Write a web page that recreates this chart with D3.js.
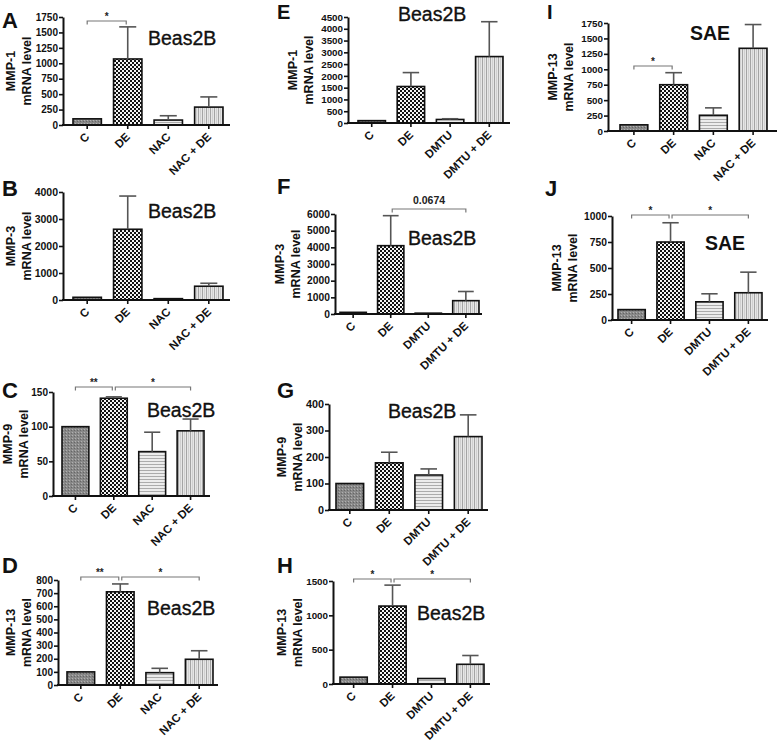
<!DOCTYPE html>
<html><head><meta charset="utf-8">
<script src="https://cdn.jsdelivr.net/npm/d3@7"></script>
<style>
body{margin:0;background:#fff}
svg{display:block}
text{font-family:"Liberation Sans",Arial,Helvetica,sans-serif}
</style>
</head><body>
<svg id="chart" width="778" height="741"></svg>
<script>
// ---------------- DATA ----------------
const catsNAC  = ["C", "DE", "NAC", "NAC + DE"];
const catsDMTU = ["C", "DE", "DMTU", "DMTU + DE"];

const meanA = [100, 1070, 80, 290],   semA = [0, 520, 70, 165];
const meanB = [100, 2620, 50, 510],   semB = [0, 1230, 0, 110];
const meanC = [100, 141, 64, 94],     semC = [0, 2, 28, 17];
const meanD = [100, 710, 94, 196],    semD = [0, 60, 33, 65];
const meanE = [100, 1550, 150, 2820], semE = [0, 590, 30, 1480];
const meanF = [100, 4100, 50, 800],   semF = [0, 1800, 0, 550];
const meanG = [100, 178, 132, 277],   semG = [0, 40, 23, 82];
const meanH = [100, 1135, 80, 287],   semH = [0, 305, 0, 128];
const meanI = [100, 750, 255, 1340],  semI = [0, 195, 120, 385];
const meanJ = [100, 750, 175, 262],   semJ = [0, 185, 77, 198];

const ticksA = [0, 250, 500, 750, 1000, 1250, 1500, 1750];
const ticksB = [0, 1000, 2000, 3000, 4000];
const ticksC = [0, 50, 100, 150];
const ticksD = [0, 100, 200, 300, 400, 500, 600, 700, 800];
const ticksE = [0, 500, 1000, 1500, 2000, 2500, 3000, 3500, 4000, 4500];
const ticksF = [0, 1000, 2000, 3000, 4000, 5000, 6000];
const ticksG = [0, 100, 200, 300, 400];
const ticksH = [0, 500, 1000, 1500];
const ticksI = [0, 250, 500, 750, 1000, 1250, 1500, 1750];
const ticksJ = [0, 250, 500, 750, 1000];

const genes  = ["MMP-1", "MMP-3", "MMP-9", "MMP-13", "MMP-1", "MMP-3", "MMP-9", "MMP-13", "MMP-13", "MMP-13"];
const cells  = ["Beas2B", "Beas2B", "Beas2B", "Beas2B", "Beas2B", "Beas2B", "Beas2B", "Beas2B", "SAE", "SAE"];
const letters = ["A", "B", "C", "D", "E", "F", "G", "H", "I", "J"];
const yLabel2 = "mRNA level";

// significance brackets: [fromIndex, toIndex, label]
const sigA = [[0, 1, "*"]];
const sigC = [[0, 1, "**"], [1, 3, "*"]];
const sigD = [[0, 1, "**"], [1, 3, "*"]];
const sigF = [[1, 3, "0.0674"]];
const sigH = [[0, 1, "*"], [1, 3, "*"]];
const sigI = [[0, 1, "*"]];
const sigJ = [[0, 1, "*"], [1, 3, "*"]];

// ---------------- LAYOUT ----------------
const layout = [
  {ax:63,  axEnd:230, yTop:17,  yBot:125, b0:73,  b1:223, lx:2,   ly:28,  lf:22, tx:148, ty:45,  labX:31,  tf:10,   bY:21,  tb:false},
  {ax:63,  axEnd:230, yTop:192, yBot:300, b0:73,  b1:223, lx:2,   ly:196, lf:22, tx:148, ty:218, labX:31,  tf:10.5, bY:0,   tb:false},
  {ax:53,  axEnd:210, yTop:392, yBot:496, b0:62,  b1:204, lx:2,   ly:398, lf:22, tx:147, ty:417, labX:28,  tf:10,   bY:387, tb:false},
  {ax:58,  axEnd:218, yTop:580, yBot:685, b0:67,  b1:213, lx:2,   ly:573, lf:22, tx:147, ty:615, labX:31,  tf:10,   bY:577, tb:false},
  {ax:348, axEnd:510, yTop:17,  yBot:123, b0:358, b1:503, lx:277, ly:19,  lf:20, tx:398, ty:21,  labX:313, tf:9.8,  bY:0,   tb:false},
  {ax:335, axEnd:482, yTop:214, yBot:314, b0:340, b1:479, lx:277, ly:194, lf:22, tx:408, ty:245, labX:300, tf:10.3, bY:209, tb:false},
  {ax:329, axEnd:488, yTop:404, yBot:510, b0:336, b1:482, lx:277, ly:398, lf:22, tx:388, ty:418, labX:302, tf:10.8, bY:0,   tb:false},
  {ax:333, axEnd:490, yTop:581, yBot:684, b0:340, b1:484, lx:277, ly:573, lf:22, tx:417, ty:620, labX:302, tf:9.8,  bY:579, tb:false},
  {ax:608, axEnd:777, yTop:23,  yBot:131, b0:620, b1:767, lx:547, ly:19,  lf:20, tx:690, ty:40,  labX:573, tf:9.8,  bY:66,  tb:true},
  {ax:612, axEnd:768, yTop:216, yBot:320, b0:618, b1:762, lx:545, ly:196, lf:22, tx:705, ty:250, labX:577, tf:10.3, bY:215, tb:true}
];

const means = [meanA, meanB, meanC, meanD, meanE, meanF, meanG, meanH, meanI, meanJ];
const sems  = [semA, semB, semC, semD, semE, semF, semG, semH, semI, semJ];
const ticks = [ticksA, ticksB, ticksC, ticksD, ticksE, ticksF, ticksG, ticksH, ticksI, ticksJ];
const catSets = [catsNAC, catsNAC, catsNAC, catsNAC, catsDMTU, catsDMTU, catsDMTU, catsDMTU, catsNAC, catsDMTU];
const sigs = [sigA, [], sigC, sigD, [], sigF, [], sigH, sigI, sigJ];

// ---------------- DRAW ----------------
const svg = d3.select("#chart");
const defs = svg.append("defs");

// C: medium grey with fine dots
let p = defs.append("pattern").attr("id", "pC").attr("patternUnits", "userSpaceOnUse").attr("width", 3).attr("height", 3);
p.append("rect").attr("width", 3).attr("height", 3).attr("fill", "#888");
p.append("rect").attr("x", 0).attr("y", 0).attr("width", 1).attr("height", 1).attr("fill", "#b0b0b0");
p.append("rect").attr("x", 2).attr("y", 1).attr("width", 1).attr("height", 1).attr("fill", "#666");
// DE: black/white checkerboard
p = defs.append("pattern").attr("id", "pDE").attr("patternUnits", "userSpaceOnUse").attr("width", 4).attr("height", 4);
p.append("rect").attr("width", 4).attr("height", 4).attr("fill", "#111");
p.append("rect").attr("x", 0).attr("y", 0).attr("width", 2).attr("height", 2).attr("fill", "#f4f4f4");
p.append("rect").attr("x", 2).attr("y", 2).attr("width", 2).attr("height", 2).attr("fill", "#f4f4f4");
// inhibitor: horizontal stripes
p = defs.append("pattern").attr("id", "pH").attr("patternUnits", "userSpaceOnUse").attr("width", 4).attr("height", 3);
p.append("rect").attr("width", 4).attr("height", 3).attr("fill", "#ececec");
p.append("rect").attr("y", 2).attr("width", 4).attr("height", 1).attr("fill", "#ababab");
// inhibitor + DE: vertical stripes
p = defs.append("pattern").attr("id", "pV").attr("patternUnits", "userSpaceOnUse").attr("width", 4).attr("height", 4);
p.append("rect").attr("width", 4).attr("height", 4).attr("fill", "#e6e6e6");
p.append("rect").attr("x", 2).attr("width", 1).attr("height", 4).attr("fill", "#a4a4a4");
p.append("rect").attr("x", 0).attr("width", 1).attr("height", 4).attr("fill", "#cfcfcf");
const fills = ["url(#pC)", "url(#pDE)", "url(#pH)", "url(#pV)"];

layout.forEach((L, k) => {
  const g = svg.append("g");
  const cats = catSets[k];
  const vals = means[k], errs = sems[k], tv = ticks[k];
  const y = d3.scaleLinear().domain([0, d3.max(tv)]).range([L.yBot, L.yTop]);
  const x = d3.scaleBand().domain(cats).range([L.b0, L.b1]).paddingInner(0.3).paddingOuter(0);
  const bw = x.bandwidth();

  // bars
  g.selectAll("rect.bar").data(cats).join("rect")
    .attr("class", "bar")
    .attr("x", d => x(d))
    .attr("y", (d, i) => y(vals[i]))
    .attr("width", bw)
    .attr("height", (d, i) => y(0) - y(vals[i]))
    .attr("fill", (d, i) => fills[i])
    .attr("stroke", "#111").attr("stroke-width", 1.6);

  // error bars (upper only)
  const eb = g.selectAll("g.err").data(cats.filter((d, i) => errs[i] > 0)).join("g").attr("class", "err");
  eb.append("line")
    .attr("x1", d => x(d) + bw / 2).attr("x2", d => x(d) + bw / 2)
    .attr("y1", d => y(vals[cats.indexOf(d)]))
    .attr("y2", d => y(vals[cats.indexOf(d)] + errs[cats.indexOf(d)]))
    .attr("stroke", "#555").attr("stroke-width", 1.6);
  eb.append("line")
    .attr("x1", d => x(d) + bw * 0.2).attr("x2", d => x(d) + bw * 0.8)
    .attr("y1", d => y(vals[cats.indexOf(d)] + errs[cats.indexOf(d)]))
    .attr("y2", d => y(vals[cats.indexOf(d)] + errs[cats.indexOf(d)]))
    .attr("stroke", "#555").attr("stroke-width", 1.6);

  // y axis
  const ya = g.append("g").attr("transform", `translate(${L.ax},0)`)
    .call(d3.axisLeft(y).tickValues(tv).tickSize(4).tickSizeOuter(0).tickFormat(d3.format("d")));
  ya.select(".domain").attr("stroke", "#111").attr("stroke-width", 2);
  ya.selectAll(".tick line").attr("stroke", "#111").attr("stroke-width", 1.6);
  ya.selectAll(".tick text").attr("fill", "#111").attr("x", -5)
    .style("font-size", L.tf + "px").style("font-weight", "bold")
    .style("font-family", '"Liberation Sans",Arial,sans-serif');

  // x axis
  const xa = g.append("g").attr("transform", `translate(0,${L.yBot})`)
    .call(d3.axisBottom(x).tickSize(4).tickSizeOuter(0));
  xa.select(".domain").remove();
  xa.selectAll(".tick line").attr("stroke", "#111").attr("stroke-width", 1.6);
  xa.selectAll(".tick text")
    .attr("x", 0).attr("y", 0).attr("dy", 0)
    .attr("transform", "translate(3,12.5) rotate(-45)")
    .style("text-anchor", "end")
    .attr("fill", "#111")
    .style("font-size", "11.5px").style("font-weight", "bold")
    .style("font-family", '"Liberation Sans",Arial,sans-serif');
  g.append("line").attr("x1", L.ax - 1).attr("x2", L.axEnd).attr("y1", L.yBot).attr("y2", L.yBot)
    .attr("stroke", "#111").attr("stroke-width", 2);

  // y label (two lines)
  const cy = (L.yTop + L.yBot) / 2;
  g.append("text").attr("transform", `translate(${L.labX - 16},${cy}) rotate(-90)`)
    .attr("text-anchor", "middle").style("font-size", "12.5px").style("font-weight", "bold")
    .attr("fill", "#111").text(genes[k]);
  g.append("text").attr("transform", `translate(${L.labX},${cy}) rotate(-90)`)
    .attr("text-anchor", "middle").style("font-size", "12.5px").style("font-weight", "bold")
    .attr("fill", "#111").text(yLabel2);

  // panel letter
  g.append("text").attr("x", L.lx).attr("y", L.ly).style("font-size", L.lf + "px").style("font-weight", "bold")
    .attr("fill", "#111").text(letters[k]);

  // cell line title
  g.append("text").attr("x", L.tx).attr("y", L.ty).style("font-size", "19.5px")
    .style("font-weight", L.tb ? "bold" : "normal")
    .attr("stroke", L.tb ? "none" : "#111").attr("stroke-width", 0.35)
    .attr("fill", "#111").text(cells[k]);

  // significance brackets
  sigs[k].forEach(([a, b, lab]) => {
    const xa0 = x(cats[a]) + bw / 2 + (a === 1 ? 1.5 : 0);
    const xb0 = x(cats[b]) + bw / 2 - (b === 1 ? 1.5 : 0);
    const by = L.bY;
    g.append("path")
      .attr("d", `M${xa0},${by + 3.5}V${by}H${xb0}V${by + 3.5}`)
      .attr("fill", "none").attr("stroke", "#777").attr("stroke-width", 1.2);
    g.append("text").attr("x", (xa0 + xb0) / 2).attr("y", lab.length > 2 ? by - 5 : by - 1.5)
      .attr("text-anchor", "middle")
      .style("font-size", lab.length > 2 ? "10.5px" : "10px").style("font-weight", "bold")
      .attr("fill", "#222").text(lab);
  });
});
</script>
</body></html>
